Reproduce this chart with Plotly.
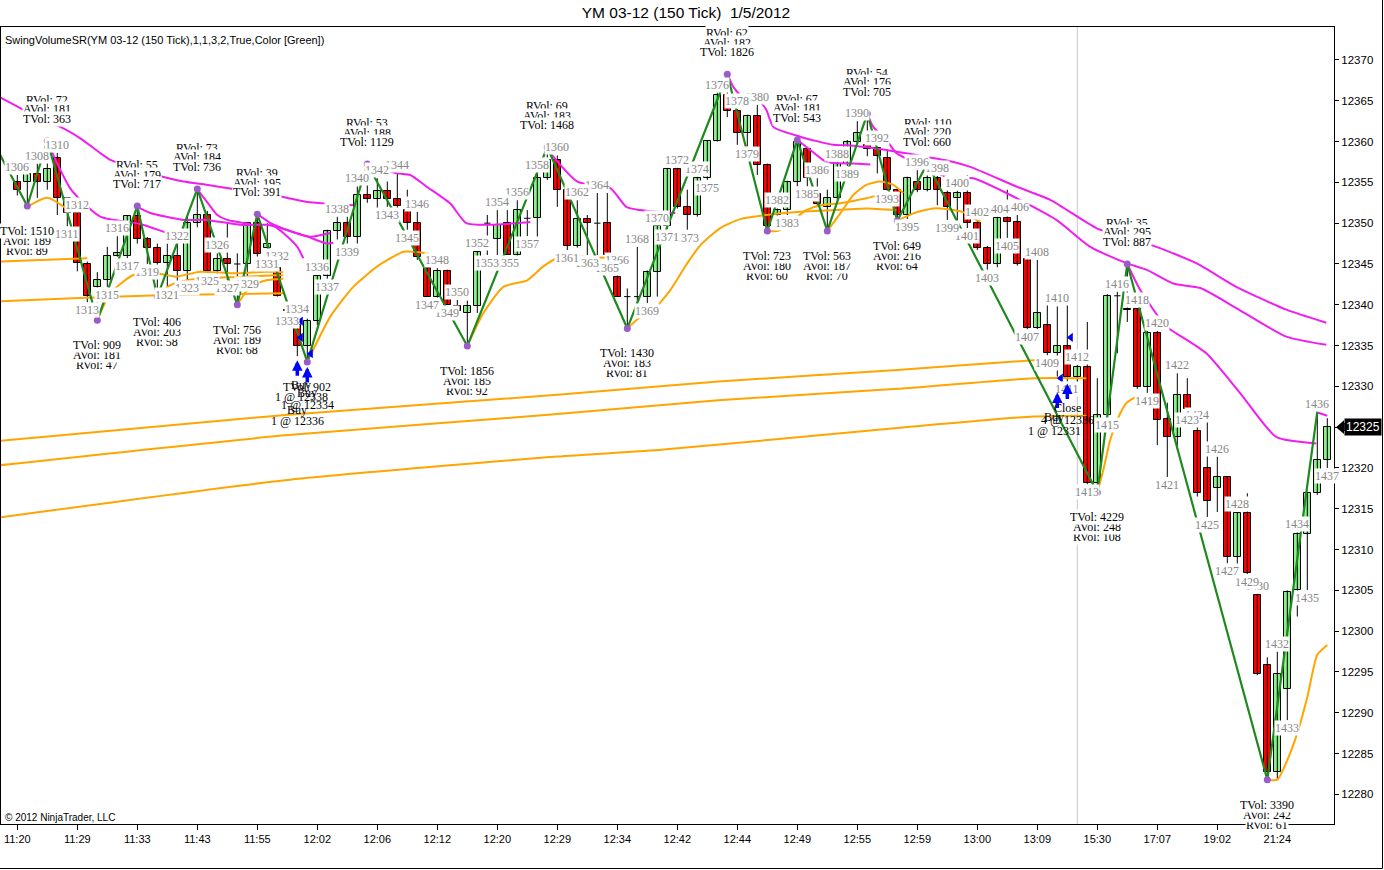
import plotly.graph_objects as go

# ---------------- data ----------------
bar_index = list(range(1306, 1438))
opens = [12355.0, 12355.0, 12356.0, 12355.1, 12358.0, 12353.05, 12351.2, 12345.0, 12342.2, 12343.0,
         12346.0, 12346.0, 12350.9, 12348.0, 12347.0, 12345.1, 12346.0, 12344.2, 12350.0, 12351.0,
         12344.2, 12345.6, 12345.0, 12345.0, 12350.0, 12347.0, 12344.5, 12339.4, 12337.5, 12334.9,
         12338.0, 12343.5, 12349.0, 12350.0, 12348.35, 12353.5, 12353.0, 12353.9, 12353.0, 12351.6,
         12350.0, 12344.5, 12341.0, 12344.1, 12339.85, 12339.0, 12339.85, 12350.0, 12348.0, 12350.0,
         12346.1, 12350.6, 12350.6, 12355.5, 12357.7, 12354.1, 12347.25, 12350.5, 12350.0, 12350.0,
         12343.4, 12341.0, 12341.0, 12341.0, 12344.0, 12349.6, 12356.7, 12352.0, 12351.0, 12355.5,
         12360.1, 12365.7, 12363.7, 12361.0, 12363.1, 12357.1, 12351.0, 12351.6, 12355.0, 12359.1,
         12353.6, 12352.0, 12353.1, 12357.3, 12360.0, 12359.6, 12359.2, 12357.95, 12354.1, 12351.0,
         12355.0, 12354.1, 12355.5, 12353.7, 12353.1, 12353.7, 12350.0, 12347.0, 12345.0, 12350.6,
         12350.1, 12345.6, 12337.2, 12337.5, 12334.1, 12334.9, 12331.2, 12332.4, 12318.1, 12326.5,
         12341.1, 12339.5, 12339.45, 12329.9, 12336.6, 12326.0, 12323.85, 12328.95, 12324.5, 12319.95,
         12317.6, 12318.9, 12309.05, 12314.45, 12304.4, 12295.8, 12282.8, 12292.9, 12305.05, 12311.9,
         12316.9, 12321.0]
highs = [12355.9, 12356.3, 12357.3, 12360.1, 12358.6, 12353.2, 12351.3, 12345.3, 12344.0, 12347.1,
         12348.4, 12351.0, 12352.1, 12348.3, 12347.5, 12347.5, 12347.5, 12350.8, 12354.2, 12351.5,
         12346.3, 12350.0, 12346.3, 12350.0, 12351.1, 12350.0, 12345.0, 12339.6, 12338.5, 12338.3,
         12343.6, 12349.2, 12350.8, 12350.8, 12354.5, 12357.25, 12355.5, 12355.1, 12356.1, 12354.1,
         12351.4, 12345.0, 12344.5, 12344.3, 12340.6, 12340.5, 12346.6, 12351.0, 12351.6, 12351.6,
         12352.8, 12351.6, 12356.2, 12359.3, 12358.3, 12354.3, 12352.8, 12351.0, 12353.7, 12353.7,
         12344.5, 12342.0, 12347.1, 12344.2, 12349.7, 12356.8, 12356.8, 12354.1, 12355.7, 12360.2,
         12366.0, 12368.25, 12364.0, 12363.3, 12364.5, 12357.3, 12351.8, 12355.2, 12360.2, 12359.3,
         12355.5, 12354.1, 12357.5, 12360.2, 12362.5, 12363.4, 12359.4, 12359.0, 12354.3, 12355.7,
         12356.5, 12357.3, 12355.8, 12354.0, 12354.0, 12355.9, 12350.4, 12347.2, 12350.8, 12354.1,
         12351.0, 12345.6, 12345.5, 12340.0, 12339.8, 12341.0, 12332.6, 12337.9, 12331.0, 12341.3,
         12341.6, 12345.0, 12339.6, 12336.8, 12336.8, 12328.0, 12331.6, 12331.0, 12325.5, 12326.3,
         12321.4, 12319.0, 12314.6, 12316.9, 12304.6, 12296.8, 12297.5, 12305.0, 12312.1, 12317.1,
         12326.9, 12326.1]
lows = [12353.4, 12352.1, 12353.1, 12354.1, 12351.0, 12349.6, 12344.1, 12340.3, 12338.1, 12342.2,
        12345.9, 12345.7, 12347.5, 12345.0, 12341.0, 12342.2, 12342.5, 12343.0, 12349.5, 12343.9,
        12343.5, 12343.0, 12340.0, 12343.5, 12345.5, 12346.0, 12341.0, 12339.0, 12333.7, 12333.0,
        12337.5, 12343.2, 12348.0, 12347.5, 12347.5, 12352.5, 12351.2, 12352.0, 12351.2, 12349.2,
        12345.5, 12341.0, 12339.8, 12340.0, 12339.0, 12334.95, 12339.0, 12346.1, 12346.1, 12346.1,
        12344.5, 12348.4, 12347.1, 12355.3, 12352.0, 12346.7, 12347.0, 12346.1, 12346.1, 12345.5,
        12341.0, 12337.1, 12340.2, 12340.2, 12341.0, 12349.3, 12351.8, 12349.2, 12350.8, 12355.3,
        12360.0, 12363.0, 12359.6, 12359.4, 12355.9, 12349.05, 12349.2, 12351.0, 12354.5, 12354.5,
        12352.0, 12349.05, 12352.8, 12357.0, 12359.8, 12358.2, 12356.1, 12354.0, 12350.3, 12350.5,
        12353.8, 12353.9, 12352.2, 12350.4, 12350.4, 12349.4, 12346.7, 12344.3, 12344.6, 12348.2,
        12344.8, 12337.0, 12337.0, 12333.8, 12331.2, 12330.6, 12329.0, 12318.0, 12317.0, 12326.3,
        12334.05, 12337.9, 12329.7, 12329.2, 12322.8, 12318.9, 12322.2, 12326.9, 12316.5, 12314.0,
        12314.6, 12308.3, 12306.1, 12307.0, 12294.6, 12281.8, 12281.8, 12289.1, 12301.8, 12305.05,
        12316.7, 12320.0]
closes = [12354.1, 12356.0, 12355.0, 12356.7, 12353.05, 12351.2, 12345.1, 12341.1, 12343.0, 12346.0,
          12346.3, 12350.9, 12348.0, 12347.0, 12345.1, 12346.0, 12344.2, 12350.0, 12351.0, 12344.2,
          12345.6, 12345.0, 12345.0, 12350.0, 12346.2, 12347.5, 12341.1, 12339.2, 12334.9, 12338.0,
          12343.5, 12349.0, 12350.0, 12348.35, 12353.5, 12353.0, 12353.9, 12353.0, 12352.1, 12350.0,
          12345.9, 12341.0, 12344.1, 12340.0, 12339.2, 12339.85, 12346.5, 12350.0, 12349.8, 12346.1,
          12351.6, 12350.6, 12355.5, 12357.7, 12354.1, 12347.25, 12350.5, 12350.0, 12350.0, 12346.1,
          12341.0, 12341.0, 12341.0, 12344.0, 12349.6, 12356.7, 12352.0, 12351.0, 12355.5, 12360.1,
          12365.7, 12363.7, 12361.0, 12363.1, 12357.1, 12349.6, 12351.6, 12355.0, 12359.9, 12355.5,
          12352.4, 12353.1, 12357.3, 12360.0, 12361.0, 12359.1, 12358.2, 12354.1, 12351.0, 12355.5,
          12354.1, 12355.5, 12354.1, 12352.0, 12353.7, 12350.0, 12347.0, 12345.0, 12350.6, 12350.1,
          12345.0, 12337.2, 12338.95, 12334.1, 12334.9, 12331.2, 12332.4, 12318.1, 12326.5, 12341.1,
          12341.1, 12339.3, 12329.9, 12336.6, 12325.9, 12323.85, 12328.95, 12327.2, 12316.9, 12316.0,
          12318.9, 12309.05, 12314.45, 12307.1, 12294.8, 12282.8, 12294.8, 12304.85, 12311.9, 12316.9,
          12321.0, 12325.0]

tick_bars = [1306, 1312, 1318, 1324, 1330, 1336, 1342, 1348, 1354, 1360, 1366,
             1372, 1378, 1384, 1390, 1396, 1402, 1408, 1414, 1420, 1426, 1432]
tick_labels = ["11:20", "11:29", "11:33", "11:43", "11:55", "12:02", "12:06", "12:12", "12:20",
               "12:29", "12:34", "12:42", "12:44", "12:49", "12:55", "12:59", "13:00", "13:09",
               "15:30", "17:07", "19:02", "21:24"]
price_ticks = [12280, 12285, 12290, 12295, 12300, 12305, 12310, 12315, 12320, 12325,
               12330, 12335, 12340, 12345, 12350, 12355, 12360, 12365, 12370]

# zigzag swing points
swing_bars = [1304, 1307, 1309, 1314, 1318, 1320, 1324, 1328, 1330, 1335, 1341, 1351, 1359,
              1367, 1377, 1381, 1384, 1387, 1391, 1394, 1397, 1414, 1417, 1431, 1436]
swing_prices = [12359.0, 12352.1, 12360.1, 12338.1, 12352.1, 12341.0, 12354.2, 12340.0, 12351.1,
                12333.0, 12357.25, 12334.95, 12359.3, 12337.1, 12368.25, 12349.05, 12360.2,
                12349.05, 12363.4, 12350.3, 12357.3, 12317.0, 12345.0, 12281.8, 12326.9]
swing_kind = ["H", "L", "H", "L", "H", "L", "H", "L", "H", "L", "H", "L", "H",
              "L", "H", "L", "H", "L", "H", "L", "H", "L", "H", "L", "H"]

# swing volume statistics
stat_bars = [1307, 1309, 1314, 1318, 1320, 1324, 1328, 1330, 1335, 1341, 1351, 1359,
             1367, 1377, 1381, 1384, 1387, 1391, 1394, 1397, 1414, 1417, 1431]
rvol = [89, 72, 47, 55, 58, 73, 68, 39, None, 53, 92, 69, 81, 62, 60, 67, 70, 54, 64, 110, 108, 35, 61]
avol = [189, 181, 181, 179, 203, 184, 189, 195, None, 188, 185, 183, 183, 182, 180, 181, 187, 176,
        216, 220, 248, 295, 242]
tvol = [1510, 363, 909, 717, 406, 736, 756, 391, 902, 1129, 1856, 1468, 1430, 1826, 723, 543,
        563, 705, 649, 660, 4229, 887, 3390]

# magenta resistance lines (bar, price)
magenta_x = [
    [1304.0, 1306.3, 1308.0, 1310.3, 1312.3, 1315.3, 1317.6, 1319.9, 1322.6, 1324.9, 1328.3, 1331.6, 1335.0, 1337.0, 1339.6],
    [1309.0, 1311.4, 1314.3, 1318.3, 1322.0],
    [1318.0, 1319.3, 1322.6, 1324.9, 1328.3, 1330.9, 1332.3, 1335.0, 1337.0, 1337.6],
    [1324.0, 1325.1, 1326.0, 1327.0, 1329.3],
    [1330.0, 1331.3, 1332.6, 1334.0, 1334.6],
    [1331.3, 1333.3, 1335.3, 1337.3],
    [1341.0, 1344.0, 1345.3, 1346.9, 1349.3, 1350.9, 1353.3, 1355.9, 1357.3],
    [1359.0, 1362.0, 1365.3, 1366.9, 1368.3, 1370.9, 1371.8],
    [1377.0, 1377.6, 1378.9, 1380.3, 1380.9, 1381.6, 1384.3, 1387.6, 1389.6, 1392.9, 1399.6, 1401.3,
     1405.9, 1409.3, 1413.9, 1416.9, 1419.9, 1423.9, 1427.9, 1432.9, 1436.9],
    [1384.0, 1385.3, 1386.9, 1389.6, 1391.3],
    [1391.0, 1391.6, 1392.9, 1393.9, 1396.3, 1398.9, 1401.6, 1404.9, 1409.9, 1413.3, 1416.9, 1418.9,
     1421.6, 1424.3, 1427.9, 1432.9, 1436.9],
    [1417.0, 1418.3, 1420.9, 1421.9, 1424.9, 1428.3, 1431.9, 1435.9],
    [1436.0, 1437.0],
]
magenta_y = [
    [12365.6, 12364.1, 12362.85, 12361.8, 12360.4, 12357.75, 12356.8, 12355.9, 12355.1, 12354.7, 12354.07, 12353.45, 12352.6, 12352.4, 12352.2],
    [12360.0, 12354.07, 12350.8, 12349.9, 12348.35],
    [12352.0, 12351.25, 12350.4, 12350.4, 12349.8, 12349.8, 12349.4, 12348.35, 12347.5, 12347.6],
    [12354.15, 12352.4, 12351.0, 12350.4, 12349.9],
    [12351.1, 12350.0, 12348.8, 12347.1, 12345.7],
    [12350.0, 12349.0, 12348.35, 12348.8],
    [12357.25, 12356.1, 12355.9, 12354.5, 12352.4, 12350.0, 12349.8, 12350.0, 12350.15],
    [12359.05, 12355.1, 12354.3, 12352.0, 12351.6, 12351.3, 12351.25],
    [12368.35, 12366.7, 12364.97, 12364.8, 12363.9, 12361.8, 12360.6, 12359.6, 12359.5, 12358.97, 12357.5, 12356.9,
     12354.5, 12352.85, 12349.4, 12348.2, 12347.1, 12345.1, 12342.2, 12339.4, 12337.8],
    [12360.2, 12358.97, 12357.5, 12357.3, 12357.2],
    [12363.4, 12361.8, 12360.2, 12358.6, 12357.1, 12355.7, 12355.5, 12353.7, 12350.4, 12347.1, 12345.1, 12344.3,
     12342.6, 12342.05, 12339.6, 12336.1, 12335.1],
    [12345.0, 12341.8, 12337.3, 12336.5, 12334.05, 12329.15, 12323.8, 12323.0],
    [12326.8, 12326.4],
]

# orange support lines (bar, price)
orange_x = [
    [1304.0, 1312.0],
    [1304.0, 1313.0],
    [1304.0, 1311.6, 1321.0, 1332.6],
    [1307.0, 1309.0, 1311.1],
    [1314.0, 1315.3, 1317.6, 1319.9, 1321.9, 1324.3, 1327.6, 1330.9, 1332.6],
    [1320.0, 1321.3, 1323.0, 1325.3, 1328.3, 1331.3, 1332.6],
    [1328.0, 1329.3, 1330.9, 1332.6],
    [1335.0, 1337.3, 1339.6, 1342.0, 1344.6, 1345.6, 1346.9, 1348.0],
    [1351.0, 1352.6, 1354.6, 1357.0, 1358.6, 1360.0, 1362.0, 1365.3, 1366.3],
    [1367.0, 1368.3, 1369.6, 1371.3, 1372.9, 1374.3, 1376.3, 1378.3, 1380.9, 1384.3, 1387.6, 1390.9, 1393.9],
    [1381.0, 1382.1, 1383.6, 1384.9, 1386.3, 1388.3, 1390.9, 1392.9, 1394.3],
    [1387.0, 1388.3, 1389.6, 1390.9, 1392.3, 1393.6, 1394.6],
    [1394.0, 1395.6, 1397.6, 1399.6, 1400.9, 1401.9, 1402.3],
    [1414.0, 1414.6, 1415.3, 1416.3, 1416.9, 1417.9, 1418.9, 1419.6],
    [1431.0, 1432.0, 1433.0, 1434.0, 1435.0, 1436.0, 1437.0],
    [1304.0, 1332.8, 1360.0, 1376.1, 1394.0, 1407.6, 1410.0],
    [1304.0, 1332.8, 1360.0, 1376.1, 1394.0, 1407.6, 1412.9],
    [1304.0, 1332.8, 1360.0, 1370.1, 1394.0, 1407.6, 1412.9],
]
orange_y = [
    [12348.8, 12349.0],
    [12345.3, 12345.7],
    [12340.4, 12340.8, 12341.2, 12341.4],
    [12352.0, 12353.1, 12351.6],
    [12338.1, 12341.4, 12343.65, 12343.85, 12343.45, 12344.05, 12343.85, 12344.05, 12344.0],
    [12341.1, 12342.4, 12343.0, 12343.3, 12343.4, 12343.6, 12343.6],
    [12340.0, 12342.2, 12343.0, 12343.2],
    [12333.0, 12338.55, 12342.2, 12344.7, 12346.5, 12346.5, 12346.3, 12346.0],
    [12334.95, 12338.95, 12342.2, 12343.0, 12344.7, 12345.7, 12345.9, 12345.7, 12345.6],
    [12337.1, 12338.5, 12339.35, 12341.8, 12344.9, 12347.3, 12349.4, 12350.5, 12351.0, 12351.4, 12351.6, 12351.8, 12351.6],
    [12349.05, 12349.05, 12350.4, 12351.6, 12352.2, 12352.45, 12353.05, 12353.65, 12353.65],
    [12349.05, 12351.2, 12353.45, 12354.7, 12355.1, 12354.7, 12353.7],
    [12350.3, 12351.2, 12351.8, 12351.6, 12351.2, 12350.4, 12350.2],
    [12317.0, 12319.75, 12323.45, 12326.7, 12327.95, 12328.7, 12328.5, 12327.5],
    [12281.8, 12281.8, 12284.2, 12287.5, 12291.9, 12297.1, 12298.3],
    [12323.3, 12326.5, 12328.96, 12330.6, 12332.0, 12333.2, 12333.3],
    [12320.3, 12324.0, 12326.6, 12328.3, 12329.7, 12331.0, 12331.0],
    [12313.9, 12318.5, 12321.4, 12322.2, 12324.9, 12326.3, 12326.4],
]

# trades
buy_arrow_bars = [1334, 1335, 1410, 1411]
fill_bars = [1334, 1334, 1335, 1411, 1410]
fill_prices = [12338, 12336, 12334, 12336, 12331]
trade_actions = ["Buy", "Buy", "Buy", "Close", "Buy"]
trade_fills = ["1 @ 12338", "1 @ 12336", "1 @ 12334", "4 @ 12336", "1 @ 12331"]
session_break_bar = 1412

# ---------------- styling ----------------
W, H = 1384, 870
ML, MR, MT, MB = 1, 50, 27, 46
PW, PH = W - ML - MR, H - MT - MB
X_RANGE = [1304.37, 1437.67]
Y_RANGE = [12276.37, 12374.04]
SERIF = "Liberation Serif, Times New Roman, serif"
SANS = "Liberation Sans, Arial, sans-serif"
UP, DOWN = "#90EE90", "#FF0000"
MAGENTA, ORANGE, ZIG = "#F01EF0", "#FFA500", "#1E8A1E"
BODY_W = 0.64

low_of = dict(zip(bar_index, lows))
high_of = dict(zip(bar_index, highs))
swing_price_of = dict(zip(swing_bars, swing_prices))
swing_kind_of = dict(zip(swing_bars, swing_kind))

fig = go.Figure()

# session separator
fig.add_shape(type="line", x0=session_break_bar, x1=session_break_bar, y0=0, y1=1,
              xref="x", yref="paper", line=dict(color="#C8C8C8", width=1), layer="below")

# wicks (+ doji ticks)
wx, wy = [], []
for b, o, h, l, c in zip(bar_index, opens, highs, lows, closes):
    wx += [b, b, None]
    wy += [l, h, None]
    if abs(c - o) < 0.05:
        wx += [b - BODY_W / 2, b + BODY_W / 2, None]
        wy += [o, o, None]
fig.add_trace(go.Scatter(x=wx, y=wy, mode="lines", line=dict(color="black", width=1),
                         hoverinfo="skip", showlegend=False))

# bodies
bx, base, hgt, col = [], [], [], []
for b, o, c in zip(bar_index, opens, closes):
    if abs(c - o) < 0.05:
        continue
    bx.append(b)
    base.append(min(o, c))
    hgt.append(abs(c - o))
    col.append(UP if c > o else DOWN)
fig.add_trace(go.Bar(x=bx, y=hgt, base=base, width=BODY_W,
                     marker=dict(color=col, line=dict(color="black", width=1)),
                     hoverinfo="skip", showlegend=False))

# indicator lines
for xs, ys in zip(orange_x, orange_y):
    fig.add_trace(go.Scatter(x=xs, y=ys, mode="lines",
                             line=dict(color=ORANGE, width=2, shape="spline", smoothing=0.6),
                             hoverinfo="skip", showlegend=False))
for xs, ys in zip(magenta_x, magenta_y):
    fig.add_trace(go.Scatter(x=xs, y=ys, mode="lines",
                             line=dict(color=MAGENTA, width=2, shape="spline", smoothing=0.6),
                             hoverinfo="skip", showlegend=False))

# zigzag
fig.add_trace(go.Scatter(x=swing_bars, y=swing_prices, mode="lines", line=dict(color=ZIG, width=2.2),
                         hoverinfo="skip", showlegend=False))
fig.add_trace(go.Scatter(x=stat_bars, y=[swing_price_of[b] for b in stat_bars], mode="markers",
                         marker=dict(color="#9A5CC6", size=7), hoverinfo="skip", showlegend=False))

# execution markers
fig.add_trace(go.Scatter(x=[b + 0.35 for b in fill_bars], y=fill_prices, mode="markers",
                         marker=dict(symbol="triangle-left", color="#0000FF", size=8),
                         hoverinfo="skip", showlegend=False))

annotations = []

# bar number labels (earlier bars drawn on top)
for b in reversed(bar_index):
    if b in stat_bars:
        continue
    above = (b % 2 == 0)
    annotations.append(dict(x=b, y=high_of[b] if above else low_of[b], text=str(b), showarrow=False,
                            yanchor="bottom" if above else "top", xanchor="center",
                            font=dict(family=SERIF, size=12, color="#858585"),
                            bgcolor="white", borderpad=0))

# swing volume labels
for b, r, a, t in zip(stat_bars, rvol, avol, tvol):
    p = swing_price_of[b]
    if swing_kind_of[b] == "H":
        offs = [41, 31.5, 22]
    else:
        offs = [-45, -35, -25]
    for txt, val, off in (("RVol: ", r, offs[0]), ("AVol: ", a, offs[1]), ("TVol: ", t, offs[2])):
        if val is None:
            continue
        annotations.append(dict(x=b, y=p, text=f"{txt}{val}", showarrow=False, yshift=off,
                                xanchor="center", yanchor="middle",
                                font=dict(family=SERIF, size=12, color="black"),
                                bgcolor="white", borderpad=0))

# buy arrows (tip just below the bar low)
arrow_drop = [4, 5, 16, 2]
for b, d in zip(buy_arrow_bars, arrow_drop):
    annotations.append(dict(x=b, y=low_of[b], yshift=-d, text="", showarrow=True, ax=0, ay=17,
                            arrowhead=2, arrowsize=0.6, arrowwidth=3.5, arrowcolor="#0000FF"))

# trade texts
trade_drop = [29, 54, 31, 27, 40]
trade_gap = [12, 11, 12, 12, 14]
trade_dx = [0.4, 0.0, 0.0, 0.0, -0.3]
for b, act, fl, d, g, dx in zip(fill_bars, trade_actions, trade_fills, trade_drop, trade_gap, trade_dx):
    annotations.append(dict(x=b + dx, y=low_of[b], yshift=-d, text=act, showarrow=False,
                            font=dict(family=SERIF, size=12, color="black"), yanchor="middle"))
    annotations.append(dict(x=b + dx, y=low_of[b], yshift=-d - g, text=fl, showarrow=False,
                            font=dict(family=SERIF, size=12, color="black"), yanchor="middle"))

# indicator caption and copyright
annotations.append(dict(xref="paper", yref="paper", x=2 / PW, y=1 - 13 / PH, xanchor="left", yanchor="middle",
                        text="SwingVolumeSR(YM 03-12 (150 Tick),1,1,3,2,True,Color [Green])",
                        showarrow=False, font=dict(family=SANS, size=11, color="black")))
annotations.append(dict(xref="paper", yref="paper", x=2 / PW, y=7 / PH, xanchor="left", yanchor="middle",
                        text="\u00a9 2012 NinjaTrader, LLC", showarrow=False,
                        font=dict(family=SANS, size=10, color="black")))

# last price marker
last = closes[-1]
annotations.append(dict(xref="paper", yref="y", x=1 + 10 / PW, y=last, xanchor="left", yanchor="middle",
                        text=f"{last:.0f}", showarrow=False, bgcolor="black", borderpad=1,
                        font=dict(family=SANS, size=12, color="white")))
fig.add_shape(type="path", xref="paper", yref="y",
              path=f"M {1 + 2 / PW},{last} L {1 + 10 / PW},{last + 0.85} L {1 + 10 / PW},{last - 0.85} Z",
              fillcolor="black", line=dict(color="black", width=0))

# outer frame (right and bottom window border)
xr = (W - 1.5 - ML) / PW
yb = -(H - 1.5 - (MT + PH)) / PH
fig.add_shape(type="line", xref="paper", yref="paper", x0=xr, x1=xr, y0=yb, y1=1 + MT / PH,
              line=dict(color="black", width=1))
fig.add_shape(type="line", xref="paper", yref="paper", x0=-ML / PW, x1=xr, y0=yb, y1=yb,
              line=dict(color="black", width=1))

fig.update_layout(
    width=W, height=H,
    margin=dict(l=ML, r=MR, t=MT, b=MB),
    paper_bgcolor="white", plot_bgcolor="white",
    showlegend=False, bargap=0,
    title=dict(text="YM 03-12 (150 Tick)\u00a0\u00a01/5/2012", x=686 / W, xanchor="center",
               y=1 - 13 / H, yanchor="middle", xref="container", yref="container",
               font=dict(family=SANS, size=15.5, color="black")),
    xaxis=dict(range=X_RANGE, tickmode="array", tickvals=tick_bars, ticktext=tick_labels,
               ticks="outside", ticklen=5, tickcolor="black", showline=True, linecolor="black",
               linewidth=1, mirror=True, showgrid=False, zeroline=False,
               tickfont=dict(family=SANS, size=11, color="black"), fixedrange=True),
    yaxis=dict(range=Y_RANGE, side="right", tickmode="array", tickvals=price_ticks,
               ticktext=[str(v) for v in price_ticks],
               ticks="outside", ticklen=4, tickcolor="black", showline=True, linecolor="black",
               linewidth=1, mirror=True, showgrid=False, zeroline=False,
               tickfont=dict(family=SANS, size=11.5, color="black"), fixedrange=True),
    annotations=annotations,
)

fig.write_html("out.html", config={"displayModeBar": False},
               post_script="document.body.style.margin='0';")
